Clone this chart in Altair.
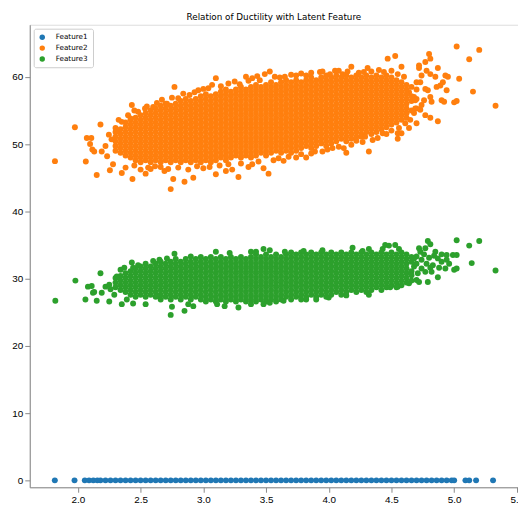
import altair as alt
import pandas as pd

TITLE = "Relation of Ductility with Latent Feature"
SERIES = ["Feature1", "Feature2", "Feature3"]
COLORS = ["#1f77b4", "#ff7f0e", "#2ca02c"]
X_TICKS = [2.0, 2.5, 3.0, 3.5, 4.0, 4.5, 5.0, 5.5]
Y_TICKS = [0, 10, 20, 30, 40, 50, 60]

# Feature1: every sample sits at 0
FEATURE1_Y = 0.0
FEATURE1_X = [1.816, 1.973, 2.055, 2.089, 2.123, 2.155, 2.18, 2.22, 2.26, 2.30, 2.34, 2.38,
              2.42, 2.46, 2.50, 2.54, 2.58, 2.62, 2.66, 2.70, 2.74, 2.78, 2.82, 2.86, 2.90,
              2.94, 2.98, 3.02, 3.06, 3.10, 3.14, 3.18, 3.22, 3.26, 3.30, 3.34, 3.38, 3.42,
              3.46, 3.50, 3.54, 3.58, 3.62, 3.66, 3.70, 3.74, 3.78, 3.82, 3.86, 3.90, 3.94,
              3.98, 4.02, 4.06, 4.10, 4.14, 4.18, 4.22, 4.26, 4.30, 4.34, 4.38, 4.42, 4.46,
              4.50, 4.54, 4.58, 4.62, 4.66, 4.70, 4.74, 4.78, 4.82, 4.86, 4.90, 4.94, 4.98,
              5.00, 5.09, 5.12, 5.175, 5.31]

# Feature2: dense core, read column by column (x, y values)
FEATURE2_COLUMNS = [
    (2.30, "49.0 49.7 50.4 51.1 51.8"),
    (2.34, "48.7 49.4 50.1 50.8 51.5 52.2"),
    (2.38, "48.3 49.0 49.7 50.4 51.1 51.8 52.5 53.2"),
    (2.42, "48.0 48.7 49.4 50.1 50.8 51.5 52.2 52.9 53.6"),
    (2.46, "47.6 48.3 49.0 49.7 50.4 51.1 51.8 52.5 53.2 53.9"),
    (2.50, "47.3 48.0 48.7 49.4 50.1 50.8 51.5 52.2 52.9 53.6 54.3"),
    (2.54, "47.6 48.3 49.0 49.7 50.4 51.1 51.8 52.5 53.2 53.9 54.6"),
    (2.58, "47.3 48.0 48.7 49.4 50.1 50.8 51.5 52.2 52.9 53.6 54.3 55.0"),
    (2.62, "47.6 48.3 49.0 49.7 50.4 51.1 51.8 52.5 53.2 53.9 54.6 55.3"),
    (2.66, "47.3 48.0 48.7 49.4 50.1 50.8 51.5 52.2 52.9 53.6 54.3 55.0 55.7"),
    (2.70, "47.6 48.3 49.0 49.7 50.4 51.1 51.8 52.5 53.2 53.9 54.6 55.3 56.0"),
    (2.74, "47.3 48.0 48.7 49.4 50.1 50.8 51.5 52.2 52.9 53.6 54.3 55.0 55.7"),
    (2.78, "47.6 48.3 49.0 49.7 50.4 51.1 51.8 52.5 53.2 53.9 54.6 55.3 56.0"),
    (2.82, "47.3 48.0 48.7 49.4 50.1 50.8 51.5 52.2 52.9 53.6 54.3 55.0 55.7 56.4"),
    (2.86, "47.6 48.3 49.0 49.7 50.4 51.1 51.8 52.5 53.2 53.9 54.6 55.3 56.0 56.7"),
    (2.90, "47.3 48.0 48.7 49.4 50.1 50.8 51.5 52.2 52.9 53.6 54.3 55.0 55.7 56.4"),
    (2.94, "47.6 48.3 49.0 49.7 50.4 51.1 51.8 52.5 53.2 53.9 54.6 55.3 56.0 56.7"),
    (2.98, "47.3 48.0 48.7 49.4 50.1 50.8 51.5 52.2 52.9 53.6 54.3 55.0 55.7 56.4 57.1"),
    (3.02, "47.6 48.3 49.0 49.7 50.4 51.1 51.8 52.5 53.2 53.9 54.6 55.3 56.0 56.7 57.4"),
    (3.06, "47.3 48.0 48.7 49.4 50.1 50.8 51.5 52.2 52.9 53.6 54.3 55.0 55.7 56.4 57.1"),
    (3.10, "47.6 48.3 49.0 49.7 50.4 51.1 51.8 52.5 53.2 53.9 54.6 55.3 56.0 56.7 57.4"),
    (3.14, "48.0 48.7 49.4 50.1 50.8 51.5 52.2 52.9 53.6 54.3 55.0 55.7 56.4 57.1 57.8"),
    (3.18, "47.6 48.3 49.0 49.7 50.4 51.1 51.8 52.5 53.2 53.9 54.6 55.3 56.0 56.7 57.4 58.1"),
    (3.22, "48.0 48.7 49.4 50.1 50.8 51.5 52.2 52.9 53.6 54.3 55.0 55.7 56.4 57.1 57.8"),
    (3.26, "48.3 49.0 49.7 50.4 51.1 51.8 52.5 53.2 53.9 54.6 55.3 56.0 56.7 57.4 58.1"),
    (3.30, "48.0 48.7 49.4 50.1 50.8 51.5 52.2 52.9 53.6 54.3 55.0 55.7 56.4 57.1 57.8 58.5"),
    (3.34, "48.3 49.0 49.7 50.4 51.1 51.8 52.5 53.2 53.9 54.6 55.3 56.0 56.7 57.4 58.1"),
    (3.38, "48.0 48.7 49.4 50.1 50.8 51.5 52.2 52.9 53.6 54.3 55.0 55.7 56.4 57.1 57.8 58.5"),
    (3.42, "48.3 49.0 49.7 50.4 51.1 51.8 52.5 53.2 53.9 54.6 55.3 56.0 56.7 57.4 58.1 58.8"),
    (3.46, "48.7 49.4 50.1 50.8 51.5 52.2 52.9 53.6 54.3 55.0 55.7 56.4 57.1 57.8 58.5"),
    (3.50, "48.3 49.0 49.7 50.4 51.1 51.8 52.5 53.2 53.9 54.6 55.3 56.0 56.7 57.4 58.1 58.8"),
    (3.54, "48.7 49.4 50.1 50.8 51.5 52.2 52.9 53.6 54.3 55.0 55.7 56.4 57.1 57.8 58.5 59.2"),
    (3.58, "49.0 49.7 50.4 51.1 51.8 52.5 53.2 53.9 54.6 55.3 56.0 56.7 57.4 58.1 58.8"),
    (3.62, "48.7 49.4 50.1 50.8 51.5 52.2 52.9 53.6 54.3 55.0 55.7 56.4 57.1 57.8 58.5 59.2"),
    (3.66, "49.0 49.7 50.4 51.1 51.8 52.5 53.2 53.9 54.6 55.3 56.0 56.7 57.4 58.1 58.8 59.5"),
    (3.70, "48.7 49.4 50.1 50.8 51.5 52.2 52.9 53.6 54.3 55.0 55.7 56.4 57.1 57.8 58.5 59.2"),
    (3.74, "49.0 49.7 50.4 51.1 51.8 52.5 53.2 53.9 54.6 55.3 56.0 56.7 57.4 58.1 58.8 59.5"),
    (3.78, "49.4 50.1 50.8 51.5 52.2 52.9 53.6 54.3 55.0 55.7 56.4 57.1 57.8 58.5 59.2"),
    (3.82, "49.7 50.4 51.1 51.8 52.5 53.2 53.9 54.6 55.3 56.0 56.7 57.4 58.1 58.8 59.5"),
    (3.86, "49.4 50.1 50.8 51.5 52.2 52.9 53.6 54.3 55.0 55.7 56.4 57.1 57.8 58.5 59.2 59.9"),
    (3.90, "49.7 50.4 51.1 51.8 52.5 53.2 53.9 54.6 55.3 56.0 56.7 57.4 58.1 58.8 59.5"),
    (3.94, "50.1 50.8 51.5 52.2 52.9 53.6 54.3 55.0 55.7 56.4 57.1 57.8 58.5 59.2 59.9"),
    (3.98, "49.7 50.4 51.1 51.8 52.5 53.2 53.9 54.6 55.3 56.0 56.7 57.4 58.1 58.8 59.5 60.2"),
    (4.02, "50.1 50.8 51.5 52.2 52.9 53.6 54.3 55.0 55.7 56.4 57.1 57.8 58.5 59.2 59.9"),
    (4.06, "50.4 51.1 51.8 52.5 53.2 53.9 54.6 55.3 56.0 56.7 57.4 58.1 58.8 59.5 60.2"),
    (4.10, "50.8 51.5 52.2 52.9 53.6 54.3 55.0 55.7 56.4 57.1 57.8 58.5 59.2 59.9"),
    (4.14, "50.4 51.1 51.8 52.5 53.2 53.9 54.6 55.3 56.0 56.7 57.4 58.1 58.8 59.5 60.2"),
    (4.18, "50.8 51.5 52.2 52.9 53.6 54.3 55.0 55.7 56.4 57.1 57.8 58.5 59.2 59.9"),
    (4.22, "51.1 51.8 52.5 53.2 53.9 54.6 55.3 56.0 56.7 57.4 58.1 58.8 59.5 60.2"),
    (4.26, "51.5 52.2 52.9 53.6 54.3 55.0 55.7 56.4 57.1 57.8 58.5 59.2 59.9"),
    (4.30, "51.8 52.5 53.2 53.9 54.6 55.3 56.0 56.7 57.4 58.1 58.8 59.5 60.2"),
    (4.34, "51.5 52.2 52.9 53.6 54.3 55.0 55.7 56.4 57.1 57.8 58.5 59.2 59.9"),
    (4.38, "51.8 52.5 53.2 53.9 54.6 55.3 56.0 56.7 57.4 58.1 58.8 59.5 60.2"),
    (4.42, "52.2 52.9 53.6 54.3 55.0 55.7 56.4 57.1 57.8 58.5 59.2 59.9"),
    (4.46, "52.5 53.2 53.9 54.6 55.3 56.0 56.7 57.4 58.1 58.8 59.5 60.2"),
    (4.50, "52.9 53.6 54.3 55.0 55.7 56.4 57.1 57.8 58.5 59.2 59.9"),
    (4.54, "53.2 53.9 54.6 55.3 56.0 56.7 57.4 58.1 58.8 59.5"),
    (4.58, "53.6 54.3 55.0 55.7 56.4 57.1 57.8 58.5 59.2"),
    (4.62, "53.9 54.6 55.3 56.0 56.7 57.4 58.1 58.8"),
    (4.66, "55.0 56.4 57.1 58.5"),
    (4.70, "55.3 56.7 58.1"),
]

# Feature2: scattered points around the core
FEATURE2_EXTRA_X = [1.817, 1.976, 2.063, 2.071, 2.107, 2.097, 2.115, 2.13, 2.15, 2.18, 2.19, 2.22,
                    2.233, 2.247, 2.268, 2.255, 2.28, 2.30, 2.31, 2.325, 2.35, 2.35, 2.38, 2.40,
                    2.42, 2.43, 2.435, 2.48, 2.50, 2.535, 2.54, 2.56, 2.60, 2.615, 2.69, 2.71,
                    2.74, 2.76, 2.77, 2.80, 2.85, 2.89, 2.92, 2.96, 3.00, 3.00, 3.10, 3.10,
                    3.18, 3.23, 3.28, 3.34, 3.39, 3.43, 3.39, 3.48, 3.52, 3.49, 3.53, 3.64,
                    3.65, 3.74, 3.74, 3.82, 3.82, 3.89, 3.93, 3.95, 3.99, 4.01, 4.03, 4.05,
                    4.11, 4.12, 4.14, 4.18, 4.22, 4.24, 4.26, 4.28, 4.31, 4.32, 4.29, 4.39,
                    4.43, 4.47, 4.53, 4.55, 4.55, 4.56, 4.58, 4.58, 4.61, 4.62, 4.64, 4.64,
                    4.65, 4.68, 4.68, 4.69, 4.69, 4.70, 4.70, 4.72, 4.72, 4.73, 4.73, 4.74,
                    4.74, 4.76, 4.77, 4.77, 4.77, 4.78, 4.79, 4.80, 4.81, 4.81, 4.81, 4.81,
                    4.82, 4.85, 4.86, 4.87, 4.87, 4.89, 4.90, 4.91, 4.92, 4.93, 4.94, 4.95,
                    5.00, 5.02, 5.02, 5.04, 5.12, 5.15, 5.20, 5.33,
                    2.45, 2.55, 2.63, 2.67, 2.75, 2.84, 2.93, 3.04, 3.07, 3.14, 3.20, 3.25,
                    3.29, 3.36, 3.45, 3.57, 3.61, 3.70, 3.78, 3.86, 4.08, 4.15, 4.34, 4.40,
                    4.44, 4.50, 4.55, 4.60,
                    2.45, 2.58, 2.66, 2.72, 2.80, 2.88, 2.95, 3.05, 3.13, 3.20, 3.30, 3.36,
                    3.44, 3.56, 3.60, 3.68, 3.78, 3.86, 3.95, 4.08, 4.18, 4.27, 4.35, 4.46,
                    4.50]
FEATURE2_EXTRA_Y = [47.46, 52.5, 47.4, 50.9, 50.9, 50.0, 49.2, 48.9, 45.4, 52.9, 48.9, 49.7,
                    48.2, 51.4, 50.7, 46.1, 47.0, 52.4, 51.9, 53.6, 53.3, 45.7, 46.5, 54.3,
                    53.8, 55.8, 44.8, 54.8, 46.2, 55.3, 45.6, 46.5, 55.5, 46.7, 46.0, 56.0,
                    43.3, 44.8, 58.5, 56.8, 44.4, 57.3, 45.0, 58.0, 58.2, 46.4, 59.8, 45.5,
                    46.0, 46.2, 45.1, 60.0, 59.8, 60.1, 47.0, 46.4, 45.6, 60.4, 60.8, 47.5,
                    60.0, 60.2, 48.0, 60.2, 48.0, 48.9, 60.7, 60.8, 49.2, 60.4, 49.4, 60.9,
                    60.4, 49.4, 48.7, 61.5, 50.5, 60.6, 51.1, 60.7, 61.3, 48.9, 51.1, 50.9,
                    51.6, 62.7, 63.1, 51.6, 50.8, 52.4, 51.6, 61.5, 53.1, 54.6, 52.4, 57.7,
                    53.6, 57.0, 54.6, 55.3, 56.5, 53.1, 59.2, 61.7, 61.3, 55.1, 59.2, 60.2,
                    55.8, 56.5, 62.2, 54.3, 58.2, 60.9, 58.0, 63.4, 62.7, 60.4, 57.0, 53.9,
                    56.3, 60.0, 58.5, 61.3, 53.4, 58.7, 56.5, 59.2, 56.3, 60.2, 58.0, 60.0,
                    56.2, 56.4, 64.5, 59.7, 62.6, 57.8, 64.0, 55.7,
                    55.0, 55.6, 56.1, 56.6, 56.9, 57.5, 57.7, 58.3, 58.8, 58.6, 59.0, 59.3,
                    58.9, 59.4, 59.5, 60.0, 59.9, 60.3, 60.5, 60.6, 60.9, 60.8, 60.8, 61.0,
                    60.7, 60.9, 60.4, 60.0,
                    46.8, 46.3, 46.6, 46.3, 46.5, 46.2, 46.7, 46.6, 46.8, 47.0, 47.1, 46.6,
                    47.4, 47.6, 47.9, 48.1, 48.5, 48.6, 48.9, 49.6, 49.9, 50.3, 50.6, 51.5,
                    52.0]

# Feature3: dense core, read column by column (x, y values)
FEATURE3_COLUMNS = [
    (2.30, "28.7 29.4 30.1"),
    (2.34, "28.3 29.0 29.7 30.4"),
    (2.38, "28.0 28.7 29.4 30.1 30.8"),
    (2.42, "27.6 28.3 29.0 29.7 30.4 31.1"),
    (2.46, "27.3 28.0 28.7 29.4 30.1 30.8 31.5"),
    (2.50, "27.6 28.3 29.0 29.7 30.4 31.1 31.8"),
    (2.54, "27.3 28.0 28.7 29.4 30.1 30.8 31.5 32.2"),
    (2.58, "27.6 28.3 29.0 29.7 30.4 31.1 31.8"),
    (2.62, "27.3 28.0 28.7 29.4 30.1 30.8 31.5 32.2"),
    (2.66, "26.9 27.6 28.3 29.0 29.7 30.4 31.1 31.8 32.5"),
    (2.70, "27.3 28.0 28.7 29.4 30.1 30.8 31.5 32.2"),
    (2.74, "26.9 27.6 28.3 29.0 29.7 30.4 31.1 31.8 32.5"),
    (2.78, "27.3 28.0 28.7 29.4 30.1 30.8 31.5 32.2 32.9"),
    (2.82, "26.9 27.6 28.3 29.0 29.7 30.4 31.1 31.8 32.5"),
    (2.86, "27.3 28.0 28.7 29.4 30.1 30.8 31.5 32.2 32.9"),
    (2.90, "26.9 27.6 28.3 29.0 29.7 30.4 31.1 31.8 32.5"),
    (2.94, "27.3 28.0 28.7 29.4 30.1 30.8 31.5 32.2 32.9"),
    (2.98, "26.9 27.6 28.3 29.0 29.7 30.4 31.1 31.8 32.5 33.2"),
    (3.02, "26.6 27.3 28.0 28.7 29.4 30.1 30.8 31.5 32.2 32.9"),
    (3.06, "26.9 27.6 28.3 29.0 29.7 30.4 31.1 31.8 32.5 33.2"),
    (3.10, "26.6 27.3 28.0 28.7 29.4 30.1 30.8 31.5 32.2 32.9"),
    (3.14, "26.9 27.6 28.3 29.0 29.7 30.4 31.1 31.8 32.5 33.2"),
    (3.18, "26.6 27.3 28.0 28.7 29.4 30.1 30.8 31.5 32.2 32.9"),
    (3.22, "26.9 27.6 28.3 29.0 29.7 30.4 31.1 31.8 32.5 33.2"),
    (3.26, "26.6 27.3 28.0 28.7 29.4 30.1 30.8 31.5 32.2 32.9"),
    (3.30, "26.9 27.6 28.3 29.0 29.7 30.4 31.1 31.8 32.5 33.2"),
    (3.34, "26.6 27.3 28.0 28.7 29.4 30.1 30.8 31.5 32.2 32.9"),
    (3.38, "26.9 27.6 28.3 29.0 29.7 30.4 31.1 31.8 32.5 33.2"),
    (3.42, "26.6 27.3 28.0 28.7 29.4 30.1 30.8 31.5 32.2 32.9 33.6"),
    (3.46, "26.9 27.6 28.3 29.0 29.7 30.4 31.1 31.8 32.5 33.2"),
    (3.50, "26.6 27.3 28.0 28.7 29.4 30.1 30.8 31.5 32.2 32.9 33.6"),
    (3.54, "26.9 27.6 28.3 29.0 29.7 30.4 31.1 31.8 32.5 33.2"),
    (3.58, "26.6 27.3 28.0 28.7 29.4 30.1 30.8 31.5 32.2 32.9 33.6"),
    (3.62, "26.9 27.6 28.3 29.0 29.7 30.4 31.1 31.8 32.5 33.2"),
    (3.66, "27.3 28.0 28.7 29.4 30.1 30.8 31.5 32.2 32.9 33.6"),
    (3.70, "26.9 27.6 28.3 29.0 29.7 30.4 31.1 31.8 32.5 33.2 33.9"),
    (3.74, "27.3 28.0 28.7 29.4 30.1 30.8 31.5 32.2 32.9 33.6"),
    (3.78, "26.9 27.6 28.3 29.0 29.7 30.4 31.1 31.8 32.5 33.2 33.9"),
    (3.82, "27.3 28.0 28.7 29.4 30.1 30.8 31.5 32.2 32.9 33.6"),
    (3.86, "27.6 28.3 29.0 29.7 30.4 31.1 31.8 32.5 33.2 33.9"),
    (3.90, "27.3 28.0 28.7 29.4 30.1 30.8 31.5 32.2 32.9 33.6"),
    (3.94, "27.6 28.3 29.0 29.7 30.4 31.1 31.8 32.5 33.2 33.9"),
    (3.98, "27.3 28.0 28.7 29.4 30.1 30.8 31.5 32.2 32.9 33.6"),
    (4.02, "27.6 28.3 29.0 29.7 30.4 31.1 31.8 32.5 33.2 33.9"),
    (4.06, "28.0 28.7 29.4 30.1 30.8 31.5 32.2 32.9 33.6"),
    (4.10, "27.6 28.3 29.0 29.7 30.4 31.1 31.8 32.5 33.2 33.9"),
    (4.14, "28.0 28.7 29.4 30.1 30.8 31.5 32.2 32.9 33.6"),
    (4.18, "28.3 29.0 29.7 30.4 31.1 31.8 32.5 33.2 33.9"),
    (4.22, "28.0 28.7 29.4 30.1 30.8 31.5 32.2 32.9 33.6"),
    (4.26, "28.3 29.0 29.7 30.4 31.1 31.8 32.5 33.2 33.9"),
    (4.30, "28.0 28.7 29.4 30.1 30.8 31.5 32.2 32.9 33.6"),
    (4.34, "28.3 29.0 29.7 30.4 31.1 31.8 32.5 33.2 33.9"),
    (4.38, "28.7 29.4 30.1 30.8 31.5 32.2 32.9 33.6"),
    (4.42, "28.3 29.0 29.7 30.4 31.1 31.8 32.5 33.2 33.9"),
    (4.46, "28.7 29.4 30.1 30.8 31.5 32.2 32.9 33.6"),
    (4.50, "29.0 29.7 30.4 31.1 31.8 32.5 33.2 33.9"),
    (4.54, "28.7 29.4 30.1 30.8 31.5 32.2 32.9 33.6"),
    (4.58, "29.0 29.7 30.4 31.1 31.8 32.5 33.2 33.9"),
    (4.62, "29.4 30.1 30.8 31.5 32.2 32.9 33.6"),
    (4.66, "29.7 31.1 32.5 33.2"),
]

# Feature3: scattered points around the core
FEATURE3_EXTRA_X = [1.82, 1.98, 2.06, 2.08, 2.11, 2.12, 2.13, 2.15, 2.18, 2.19, 2.22, 2.25,
                    2.26, 2.25, 2.29, 2.31, 2.34, 2.37, 2.35, 2.39, 2.43, 2.44, 2.44, 2.48,
                    2.60, 2.65, 2.71, 2.77, 2.54, 2.63, 2.74, 2.75, 2.85, 2.88, 2.92, 2.90,
                    3.10, 3.21, 3.11, 3.17, 3.28, 3.38, 3.42, 3.48, 3.53, 3.38, 3.48, 3.53,
                    3.65, 3.80, 3.95, 4.19, 4.27, 4.32, 4.43, 4.45, 4.48, 4.53, 4.56, 3.64,
                    3.82, 3.90, 4.00, 4.14, 4.32, 4.49, 4.55, 4.64, 4.70, 4.72, 4.70, 4.72,
                    4.73, 4.77, 4.79, 4.81, 4.79, 4.81, 4.82, 4.85, 4.87, 4.87, 4.90, 4.93,
                    4.94, 4.94, 4.99, 5.00, 5.02, 5.02, 5.02, 5.12, 5.14, 5.20, 5.33,
                    4.66, 4.68, 4.68, 4.70, 4.71, 4.74, 4.74, 4.76, 4.77, 4.78, 4.80, 4.83,
                    4.84, 4.88, 4.90, 4.96]
FEATURE3_EXTRA_Y = [26.7, 29.7, 26.9, 28.8, 28.9, 27.9, 28.0, 26.7, 30.8, 27.9, 28.8, 29.1,
                    28.4, 26.6, 27.6, 30.3, 31.3, 31.6, 26.2, 26.9, 32.4, 31.6, 26.3, 32.0,
                    32.6, 32.8, 33.0, 33.7, 26.2, 27.4, 24.6, 25.8, 25.2, 26.2, 25.9, 33.3,
                    34.0, 33.8, 26.2, 25.9, 25.7, 34.0, 34.0, 34.4, 34.2, 26.2, 26.2, 26.4,
                    34.0, 34.1, 34.2, 34.6, 34.1, 34.4, 34.4, 35.0, 34.9, 35.0, 34.4, 26.7,
                    26.9, 26.9, 27.2, 27.5, 27.6, 28.7, 28.8, 29.3, 29.8, 29.5, 33.3, 34.5,
                    34.0, 34.5, 35.6, 35.1, 29.5, 31.6, 31.0, 34.0, 33.0, 30.2, 32.5, 31.5,
                    33.5, 32.8, 33.5, 31.3, 33.5, 31.5, 35.7, 34.9, 32.3, 35.6, 31.2,
                    30.5, 31.8, 33.0, 32.2, 30.8, 31.5, 32.8, 33.6, 31.0, 32.2, 33.1, 32.0,
                    33.4, 31.6, 33.6, 32.2]

rows = []
for x in FEATURE1_X:
    rows.append({"x": x, "y": FEATURE1_Y, "series": "Feature1"})
for x, ys in FEATURE2_COLUMNS:
    for y in ys.split():
        rows.append({"x": x, "y": float(y), "series": "Feature2"})
for x, y in zip(FEATURE2_EXTRA_X, FEATURE2_EXTRA_Y):
    rows.append({"x": x, "y": y, "series": "Feature2"})
for x, ys in FEATURE3_COLUMNS:
    for y in ys.split():
        rows.append({"x": x, "y": float(y), "series": "Feature3"})
for x, y in zip(FEATURE3_EXTRA_X, FEATURE3_EXTRA_Y):
    rows.append({"x": x, "y": y, "series": "Feature3"})
df = pd.DataFrame(rows)
df["idx"] = range(len(df))

FONT = "DejaVu Sans"
INK = "#333333"

chart = alt.Chart(df).mark_circle(size=36, opacity=1).encode(
    x=alt.X("x:Q", scale=alt.Scale(domain=[1.616, 5.509], nice=False, zero=False),
            axis=alt.Axis(values=X_TICKS, format=".1f", title=None, grid=False)),
    y=alt.Y("y:Q", scale=alt.Scale(domain=[-1.03, 67.74], nice=False, zero=False),
            axis=alt.Axis(values=Y_TICKS, format="d", title=None, grid=False)),
    color=alt.Color("series:N", scale=alt.Scale(domain=SERIES, range=COLORS),
                    legend=alt.Legend(title=None, orient="top-left", offset=4, padding=5,
                                      strokeColor="#cccccc", fillColor="white", cornerRadius=2,
                                      symbolType="circle", symbolSize=30, symbolOpacity=1,
                                      symbolStrokeWidth=0, labelFontSize=7.3, labelFont=FONT,
                                      labelColor="#000000", rowPadding=3, labelOffset=10)),
    order=alt.Order("idx:Q"),
).properties(
    width=494, height=468,
    title=alt.TitleParams(TITLE, fontSize=8.9, font=FONT, fontWeight="normal", color="#000000",
                          anchor="middle", offset=3),
    padding={"left": 22, "top": 14, "right": 0, "bottom": 16},
    autosize=alt.AutoSizeParams(type="none"),
).configure_view(
    stroke=INK, strokeWidth=0.8
).configure_axis(
    grid=False, domainColor=INK, domainWidth=0.8, tickColor=INK, tickWidth=0.8,
    tickSize=2.6, labelPadding=2.5, labelFontSize=7.3, labelFont=FONT, labelColor="#000000"
).configure(background="white")

chart.save("out.html", embed_options={"renderer": "svg", "actions": False})
